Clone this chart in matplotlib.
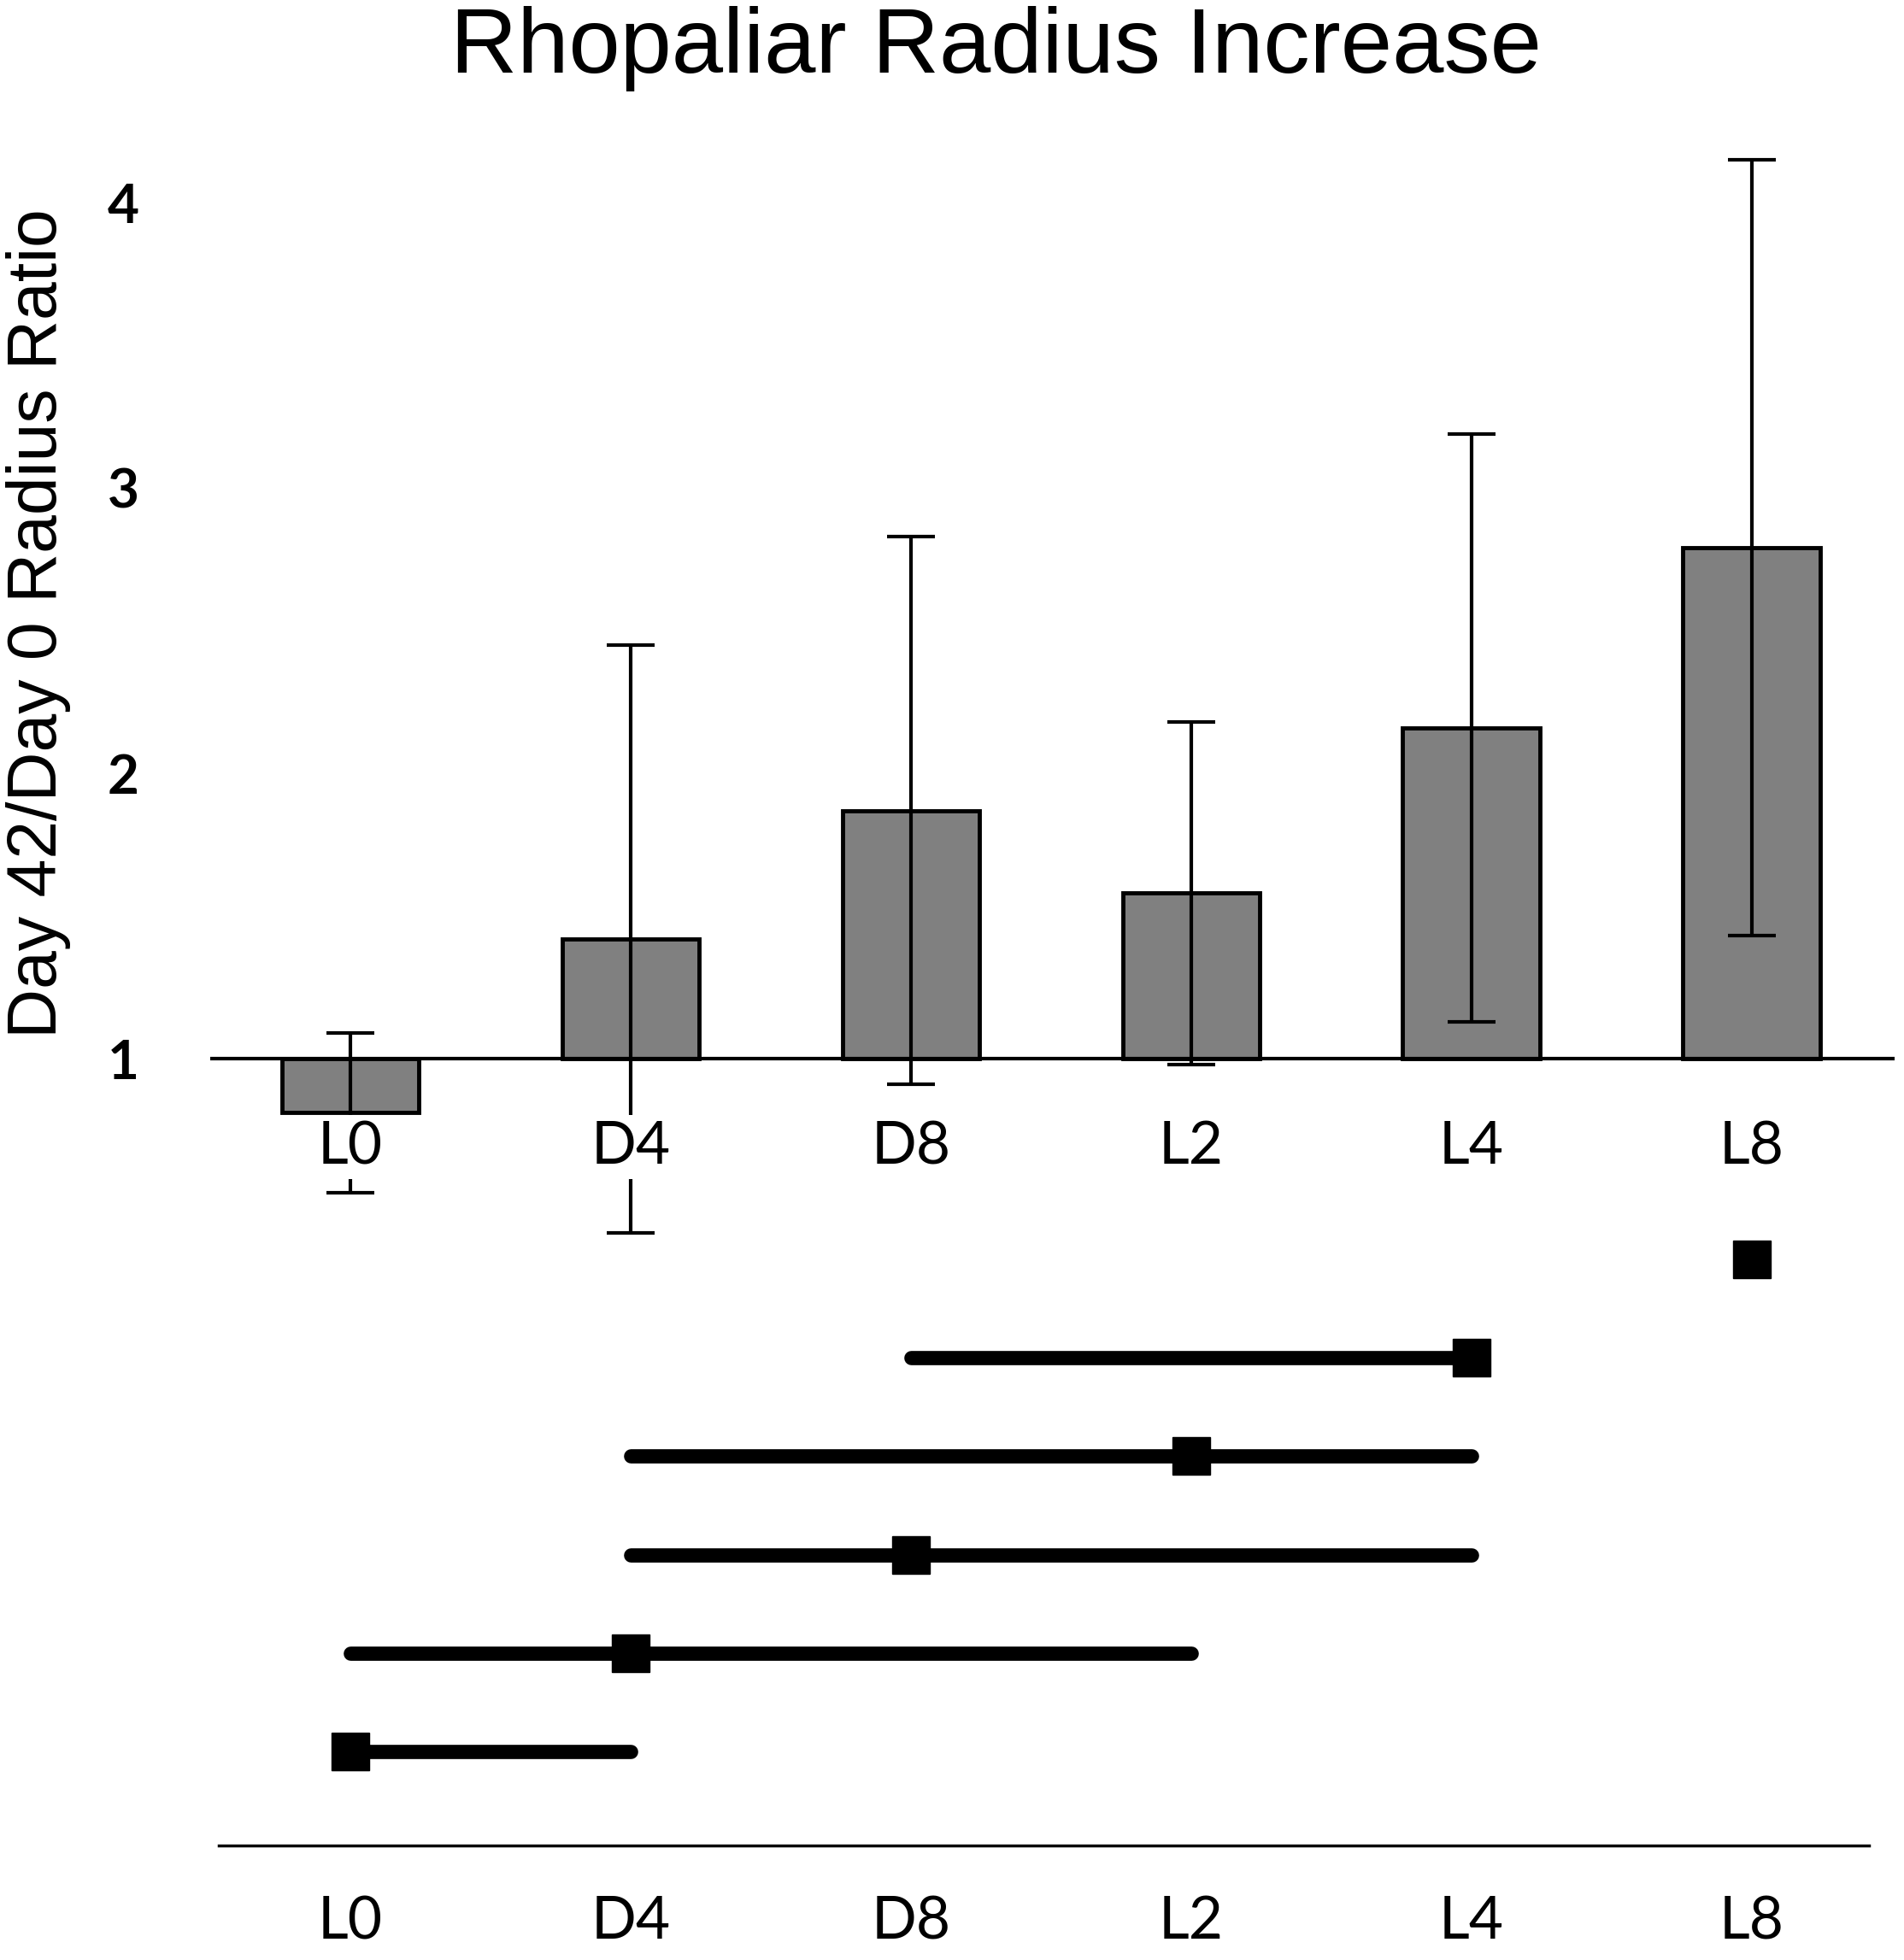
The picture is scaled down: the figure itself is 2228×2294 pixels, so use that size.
import numpy as np
import matplotlib.pyplot as plt

# bar chart values
groups = ["L0", "D4", "D8", "L2", "L4", "L8"]
ratio_means = [0.81, 1.42, 1.87, 1.58, 2.16, 2.79]
ratio_errors = [0.28, 1.03, 0.96, 0.60, 1.03, 1.36]
y_ticks = [1, 2, 3, 4]

# significance rows, top to bottom: line from start to end, square at marker
row_start = [5, 2, 1, 1, 0, 0]
row_end = [5, 4, 4, 4, 3, 1]
row_marker = [5, 4, 3, 2, 1, 0]

x = np.arange(len(groups))
means = np.array(ratio_means)

fig = plt.figure(figsize=(22.28, 22.94), dpi=100)

# top panel: bars relative to ratio of 1
ax = fig.add_axes([0.1105, 0.358, 0.8845, 0.5894])
ax.set_facecolor("none")
ax.bar(x, means - 1, bottom=1, width=0.49, color="#808080",
       edgecolor="black", linewidth=3.5, zorder=2)
ax.errorbar(x, means, yerr=ratio_errors, fmt="none", ecolor="black",
            elinewidth=3, capsize=20, capthick=3, zorder=3)
ax.axhline(1, color="black", linewidth=3, zorder=4)
for xi, name in zip(x, groups):
    ax.text(xi, 0.69, name, ha="center", va="center", fontsize=50,
            family="Lato", zorder=6,
            bbox=dict(facecolor="white", edgecolor="none", pad=4))

ax.set_xlim(-0.5, 5.51)
ax.set_ylim(0.3, 4.35)
ax.set_xticks([])
ax.set_yticks(y_ticks)
ax.set_yticklabels([str(t) for t in y_ticks], family="Lato",
                   fontweight="bold", fontsize=46)
ax.tick_params(axis="y", length=0, pad=60)
for side in ["top", "right", "bottom", "left"]:
    ax.spines[side].set_visible(False)

# bottom panel: grouping lines
ax2 = fig.add_axes([0.1105, 0.0585, 0.8845, 0.3191])
ax2.set_facecolor("none")
rows = np.arange(len(row_start), 0, -1)
for r, s, e, m in zip(rows, row_start, row_end, row_marker):
    ax2.plot([s, e], [r, r], color="black", linewidth=12,
             solid_capstyle="round")
    ax2.plot([m], [r], marker="s", markersize=32, color="black")

ax2.set_xlim(-0.5, 5.51)
ax2.set_ylim(0.05, 6.4)
ax2.set_yticks([])
ax2.set_xticks(x)
ax2.set_xticklabels(groups, family="Lato", fontsize=50)
ax2.tick_params(axis="x", length=0, pad=42)
for side in ["top", "right", "left"]:
    ax2.spines[side].set_visible(False)
ax2.spines["bottom"].set_linewidth(2.5)
ax2.spines["bottom"].set_bounds(-0.47, 5.42)

fig.text(0.523, 0.963, "Rhopaliar Radius Increase", ha="center",
         va="baseline", fontsize=78, family="Liberation Sans")
fig.text(0.0203, 0.682, "Day 42/Day 0 Radius Ratio", ha="center",
         va="center", rotation=90, fontsize=58, family="Liberation Sans")

fig.savefig("out.png", dpi=100)
